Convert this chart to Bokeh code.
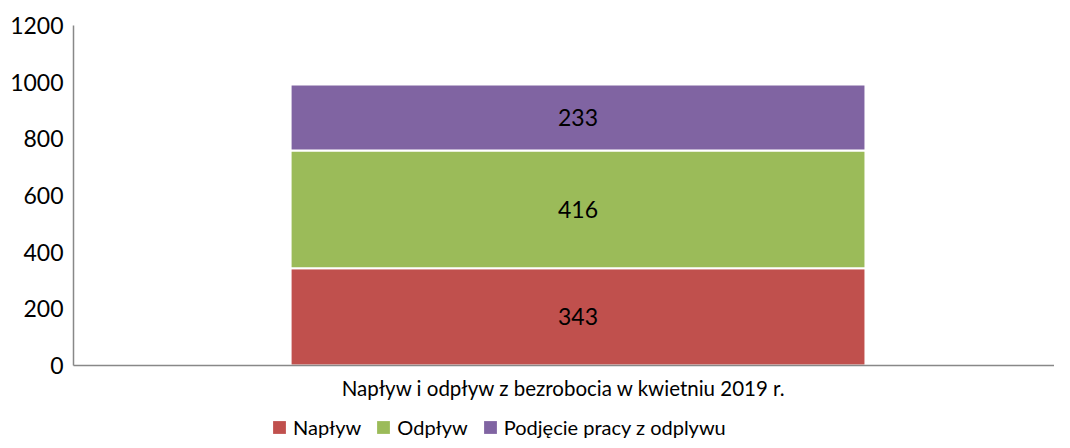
from bokeh.plotting import figure
from bokeh.layouts import column
from bokeh.models import Range1d, FactorRange, FixedTicker, Legend, LegendItem, ColumnDataSource
from bokeh.transform import dodge
from bokeh.core.properties import value
from bokeh.embed import file_html
from bokeh.resources import INLINE

categories = ["Napływ i odpływ z bezrobocia w kwietniu 2019 r."]
series_names = ["Napływ", "Odpływ", "Podjęcie pracy z odplywu"]
series_keys = ["naplyw", "odplyw", "podjecie"]
naplyw = [343]
odplyw = [416]
podjecie = [233]
colors = ["#C0504D", "#9BBB59", "#8064A2"]
y_ticks = [0, 200, 400, 600, 800, 1000, 1200]

FONT = "Lato"
SHIFT = 0.0143

data = {"cat": categories, "naplyw": naplyw, "odplyw": odplyw, "podjecie": podjecie}
source = ColumnDataSource(data)

p = figure(
    x_range=FactorRange(*categories, range_padding=0),
    y_range=Range1d(y_ticks[0], y_ticks[-1]),
    width=1054, height=405,
    output_backend="svg", toolbar_location=None,
    min_border_left=73, min_border_right=0, min_border_top=25, min_border_bottom=40,
)

renderers = p.vbar_stack(
    series_keys, x=dodge("cat", SHIFT, range=p.x_range), width=0.586, source=source,
    fill_color=colors, line_color="white", line_width=2,
)

# data labels at segment centers
bottom = 0
for key in series_keys:
    val = data[key][0]
    p.text(x=[categories[0]], y=[bottom + val / 2], text=[str(val)],
           x_offset=14, text_align="center", text_baseline="middle",
           text_font=value(FONT), text_font_size="23px", text_color="black")
    bottom += val

p.xgrid.visible = False
p.ygrid.visible = False
p.outline_line_color = None

p.yaxis.ticker = FixedTicker(ticks=y_ticks)
p.yaxis.major_tick_line_color = None
p.yaxis.minor_tick_line_color = None
p.yaxis.major_tick_out = 0
p.yaxis.major_label_standoff = 10
p.yaxis.axis_line_color = "#888888"
p.yaxis.axis_line_width = 1.5
p.yaxis.major_label_text_font = FONT
p.yaxis.major_label_text_font_size = "23px"
p.yaxis.major_label_text_color = "black"

p.xaxis.major_tick_line_color = None
p.xaxis.major_tick_out = 0
p.xaxis.major_label_standoff = 10
p.xaxis.axis_line_color = "#888888"
p.xaxis.axis_line_width = 1.5
p.xaxis.major_label_text_font = FONT
p.xaxis.major_label_text_font_size = "20.5px"
p.xaxis.major_label_text_color = "black"

# legend strip below the chart (proxy glyphs lie outside the visible range)
lf = figure(
    width=1054, height=35, x_range=Range1d(0, 1), y_range=Range1d(0, 1),
    output_backend="svg", toolbar_location=None,
    x_axis_location=None, y_axis_location=None,
    min_border_left=0, min_border_right=0, min_border_top=0, min_border_bottom=0,
)
lf.xgrid.visible = False
lf.ygrid.visible = False
lf.outline_line_color = None
proxy = ColumnDataSource({"x": [-5], "top": [-5]})
leg_renderers = [lf.vbar(x="x", top="top", width=0.1, source=proxy, fill_color=c, line_color=None)
                 for c in colors]
legend = Legend(
    items=[LegendItem(label=n, renderers=[r]) for n, r in zip(series_names, leg_renderers)],
    orientation="horizontal", location=(198, 1),
    label_text_font=FONT, label_text_font_size="20px", label_text_color="black",
    glyph_width=16, glyph_height=16, label_standoff=6, spacing=14,
    padding=0, margin=0, border_line_color=None, background_fill_alpha=0,
)
lf.add_layout(legend, "center")

layout = column(p, lf, spacing=0)
open("out.html", "w").write(file_html(layout, INLINE))
